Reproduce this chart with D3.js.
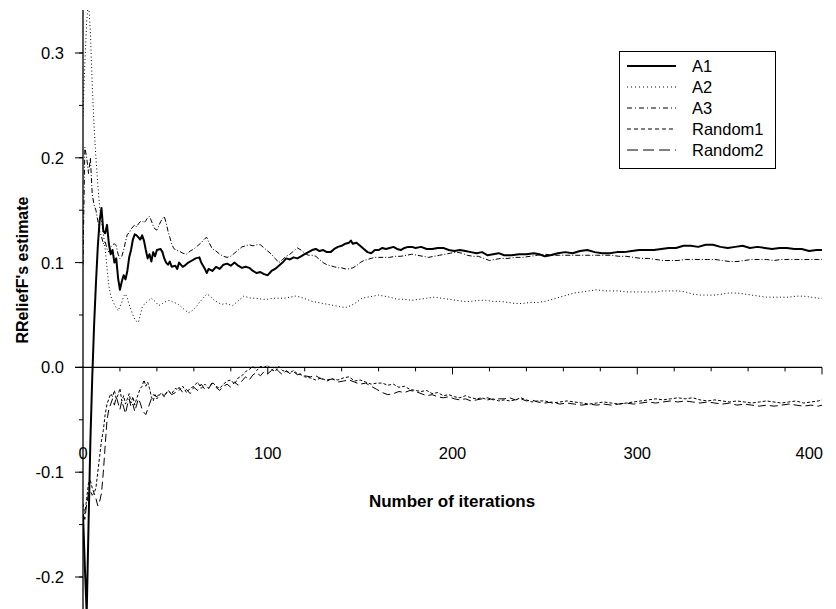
<!DOCTYPE html>
<html><head><meta charset="utf-8">
<script src="https://cdn.jsdelivr.net/npm/d3@7"></script>
<style>body{margin:0;background:#fff}svg{display:block}</style>
</head><body>
<svg id="c" width="836" height="609"></svg>
<script>
const seriesNames = ["A1","A2","A3","Random1","Random2"];
const xTicksMajor = [0,100,200,300,400];
const yTicksMajor = [-0.2,-0.1,0.0,0.1,0.2,0.3];
const yTickLabels = ["-0.2","-0.1","0.0","0.1","0.2","0.3"];

const a1 = [[0,-0.14],[1,-0.19],[2,-0.235],[3,-0.15],[4,-0.07],[5,-0.01],[6,0.04],[7,0.08],[8,0.115],[9,0.14],[10,0.152],[11,0.13],[12,0.128],[13,0.136],[14,0.118],[15,0.108],[16,0.112],[17,0.1],[18,0.104],[19,0.085],[20,0.074],[21,0.082],[22,0.088],[23,0.084],[24,0.092],[25,0.105],[26,0.112],[27,0.122],[28,0.127],[29,0.126],[30,0.124],[31,0.122],[32,0.126],[33,0.121],[34,0.112],[35,0.104],[36,0.108],[37,0.101],[38,0.11],[39,0.106],[40,0.112],[42,0.113],[43,0.11],[44,0.104],[45,0.1],[46,0.098],[47,0.101],[48,0.096],[50,0.097],[51,0.094],[52,0.1],[54,0.096],[55,0.097],[57,0.1],[59,0.102],[61,0.104],[63,0.105],[64,0.1],[66,0.094],[67,0.09],[68,0.094],[70,0.092],[72,0.096],[74,0.094],[76,0.098],[78,0.099],[80,0.097],[82,0.1],[84,0.097],[86,0.095],[88,0.096],[90,0.095],[92,0.092],[94,0.09],[96,0.091],[98,0.089],[100,0.088],[102,0.092],[104,0.094],[106,0.097],[108,0.1],[110,0.104],[112,0.103],[114,0.105],[116,0.104],[118,0.106],[120,0.108],[122,0.11],[124,0.112],[126,0.113],[128,0.111],[130,0.112],[132,0.11],[134,0.11],[136,0.113],[138,0.115],[140,0.116],[142,0.118],[144,0.119],[145,0.121],[146,0.118],[148,0.119],[150,0.116],[152,0.113],[154,0.11],[156,0.109],[158,0.112],[160,0.112],[162,0.114],[164,0.113],[166,0.114],[168,0.115],[170,0.113],[172,0.112],[174,0.114],[176,0.115],[178,0.115],[180,0.114],[183,0.115],[186,0.113],[189,0.113],[192,0.114],[195,0.114],[198,0.112],[201,0.111],[204,0.112],[207,0.111],[210,0.11],[213,0.109],[216,0.11],[219,0.107],[222,0.108],[225,0.109],[228,0.107],[232,0.107],[236,0.108],[240,0.108],[244,0.109],[247,0.108],[250,0.106],[253,0.107],[257,0.109],[261,0.11],[265,0.109],[269,0.111],[273,0.112],[277,0.11],[281,0.109],[285,0.109],[289,0.11],[293,0.11],[297,0.111],[301,0.112],[305,0.112],[309,0.112],[313,0.113],[317,0.114],[321,0.114],[325,0.116],[329,0.116],[333,0.115],[337,0.117],[341,0.117],[345,0.115],[349,0.114],[353,0.115],[357,0.116],[361,0.114],[365,0.115],[369,0.114],[373,0.113],[377,0.114],[381,0.114],[385,0.113],[389,0.113],[393,0.111],[397,0.112],[400,0.112]];

const a2 = [[0,0.24],[1,0.29],[2,0.33],[3,0.35],[4,0.32],[5,0.27],[6,0.23],[7,0.2],[8,0.175],[9,0.153],[10,0.14],[11,0.128],[12,0.113],[13,0.095],[14,0.078],[15,0.068],[16,0.064],[17,0.06],[18,0.057],[19,0.054],[20,0.058],[21,0.062],[22,0.068],[23,0.07],[24,0.066],[25,0.06],[26,0.055],[27,0.05],[28,0.046],[29,0.044],[30,0.043],[31,0.05],[32,0.057],[33,0.06],[35,0.063],[37,0.066],[39,0.063],[41,0.059],[43,0.061],[45,0.063],[47,0.064],[49,0.062],[51,0.061],[53,0.058],[55,0.055],[57,0.052],[59,0.054],[61,0.057],[63,0.062],[65,0.066],[67,0.07],[69,0.068],[71,0.064],[73,0.062],[75,0.06],[77,0.061],[79,0.06],[81,0.059],[83,0.062],[85,0.065],[87,0.068],[89,0.067],[91,0.066],[94,0.066],[97,0.065],[100,0.065],[103,0.066],[106,0.066],[109,0.066],[112,0.067],[115,0.068],[118,0.067],[121,0.065],[124,0.063],[127,0.062],[130,0.061],[133,0.06],[136,0.059],[139,0.058],[142,0.057],[145,0.059],[148,0.062],[151,0.066],[154,0.067],[157,0.068],[160,0.069],[163,0.068],[166,0.067],[170,0.065],[174,0.065],[178,0.064],[182,0.065],[186,0.066],[190,0.067],[194,0.066],[198,0.065],[202,0.064],[206,0.063],[210,0.063],[214,0.064],[218,0.064],[222,0.063],[226,0.063],[230,0.062],[234,0.061],[238,0.061],[242,0.062],[246,0.062],[250,0.063],[254,0.065],[258,0.067],[262,0.069],[266,0.071],[270,0.072],[274,0.073],[278,0.074],[282,0.073],[286,0.073],[290,0.073],[294,0.072],[298,0.072],[302,0.072],[306,0.072],[310,0.072],[314,0.073],[318,0.073],[322,0.073],[326,0.072],[330,0.07],[334,0.069],[338,0.069],[342,0.069],[346,0.07],[350,0.071],[354,0.071],[358,0.07],[362,0.069],[366,0.068],[370,0.067],[374,0.067],[378,0.067],[382,0.067],[386,0.068],[390,0.068],[394,0.067],[398,0.066],[400,0.066]];

const a3 = [[0,0.098],[1,0.21],[2,0.2],[3,0.185],[4,0.2],[5,0.165],[6,0.155],[7,0.15],[8,0.14],[9,0.13],[10,0.125],[11,0.118],[12,0.12],[13,0.113],[14,0.11],[15,0.115],[16,0.117],[17,0.118],[18,0.116],[19,0.108],[20,0.104],[21,0.106],[22,0.112],[23,0.12],[24,0.127],[25,0.128],[26,0.132],[27,0.134],[28,0.136],[29,0.134],[30,0.137],[31,0.139],[32,0.14],[33,0.138],[34,0.14],[35,0.143],[36,0.144],[37,0.14],[38,0.135],[39,0.132],[40,0.131],[41,0.135],[42,0.139],[43,0.142],[44,0.144],[45,0.138],[46,0.13],[47,0.124],[48,0.118],[49,0.114],[50,0.112],[52,0.111],[54,0.109],[56,0.108],[58,0.111],[60,0.113],[62,0.116],[64,0.119],[66,0.123],[67,0.124],[68,0.12],[70,0.113],[72,0.111],[74,0.108],[76,0.106],[78,0.105],[80,0.106],[82,0.109],[84,0.112],[86,0.115],[88,0.116],[90,0.117],[92,0.116],[94,0.117],[96,0.117],[98,0.114],[100,0.111],[102,0.108],[104,0.104],[106,0.1],[108,0.103],[110,0.106],[112,0.108],[114,0.111],[116,0.114],[118,0.112],[120,0.109],[122,0.107],[124,0.107],[126,0.106],[128,0.103],[130,0.1],[132,0.098],[134,0.097],[136,0.096],[138,0.095],[140,0.095],[142,0.094],[144,0.094],[146,0.095],[148,0.097],[150,0.1],[152,0.102],[154,0.103],[156,0.104],[158,0.105],[160,0.105],[163,0.105],[166,0.105],[169,0.106],[172,0.106],[175,0.107],[178,0.108],[181,0.107],[184,0.106],[187,0.105],[190,0.106],[193,0.107],[196,0.108],[199,0.109],[202,0.11],[205,0.109],[208,0.107],[211,0.106],[214,0.106],[217,0.104],[220,0.102],[223,0.103],[226,0.104],[230,0.104],[234,0.105],[238,0.105],[242,0.106],[246,0.107],[250,0.108],[254,0.107],[258,0.107],[262,0.107],[266,0.107],[270,0.107],[274,0.107],[278,0.107],[282,0.107],[286,0.107],[290,0.106],[294,0.106],[298,0.105],[302,0.104],[306,0.104],[310,0.103],[314,0.102],[318,0.102],[322,0.102],[326,0.103],[330,0.103],[334,0.103],[338,0.103],[342,0.103],[346,0.102],[350,0.101],[354,0.101],[358,0.102],[362,0.103],[366,0.103],[370,0.103],[374,0.102],[378,0.103],[382,0.103],[386,0.103],[390,0.103],[394,0.103],[398,0.103],[400,0.103]];

const random1 = [[0,-0.13],[1,-0.14],[2,-0.125],[3,-0.11],[4,-0.108],[5,-0.115],[6,-0.12],[7,-0.115],[8,-0.1],[9,-0.085],[10,-0.07],[11,-0.06],[12,-0.045],[13,-0.035],[14,-0.03],[15,-0.025],[16,-0.028],[17,-0.022],[18,-0.03],[19,-0.026],[20,-0.02],[21,-0.032],[22,-0.027],[23,-0.035],[24,-0.03],[25,-0.025],[26,-0.034],[27,-0.028],[28,-0.036],[29,-0.03],[30,-0.025],[31,-0.02],[32,-0.018],[33,-0.012],[34,-0.018],[35,-0.014],[36,-0.02],[37,-0.028],[38,-0.032],[39,-0.026],[40,-0.03],[42,-0.025],[44,-0.028],[46,-0.022],[48,-0.025],[50,-0.02],[52,-0.022],[54,-0.018],[56,-0.024],[58,-0.02],[60,-0.018],[62,-0.014],[64,-0.02],[66,-0.016],[68,-0.02],[70,-0.014],[72,-0.018],[74,-0.02],[76,-0.016],[78,-0.013],[80,-0.012],[82,-0.016],[84,-0.01],[86,-0.008],[88,-0.004],[90,-0.002],[92,0.001],[94,-0.003],[96,0.001],[98,0.0],[100,0.002],[102,-0.002],[104,-0.004],[106,0.001],[108,-0.003],[110,-0.004],[112,-0.005],[114,-0.003],[116,-0.006],[118,-0.007],[120,-0.009],[123,-0.01],[126,-0.012],[129,-0.01],[132,-0.013],[135,-0.011],[138,-0.012],[141,-0.01],[144,-0.009],[147,-0.013],[150,-0.012],[153,-0.014],[156,-0.016],[159,-0.015],[162,-0.015],[165,-0.017],[168,-0.016],[171,-0.019],[174,-0.018],[177,-0.021],[180,-0.022],[183,-0.023],[186,-0.022],[189,-0.025],[192,-0.024],[195,-0.027],[198,-0.026],[201,-0.028],[204,-0.029],[207,-0.027],[210,-0.029],[213,-0.03],[216,-0.029],[219,-0.031],[222,-0.03],[225,-0.032],[228,-0.031],[231,-0.032],[234,-0.031],[237,-0.029],[240,-0.031],[243,-0.033],[246,-0.032],[250,-0.032],[254,-0.034],[258,-0.033],[262,-0.032],[266,-0.033],[270,-0.034],[274,-0.035],[278,-0.034],[282,-0.033],[286,-0.034],[290,-0.035],[294,-0.034],[298,-0.033],[302,-0.032],[306,-0.031],[310,-0.03],[314,-0.031],[318,-0.03],[322,-0.029],[326,-0.03],[330,-0.029],[334,-0.031],[338,-0.032],[342,-0.031],[346,-0.032],[350,-0.033],[354,-0.032],[358,-0.033],[362,-0.034],[366,-0.033],[370,-0.032],[374,-0.033],[378,-0.034],[382,-0.033],[386,-0.032],[390,-0.034],[394,-0.033],[398,-0.032],[400,-0.031]];

const random2 = [[0,-0.14],[1,-0.145],[2,-0.13],[3,-0.12],[4,-0.118],[5,-0.122],[6,-0.12],[7,-0.125],[8,-0.132],[9,-0.128],[10,-0.12],[11,-0.1],[12,-0.075],[13,-0.05],[14,-0.04],[15,-0.035],[16,-0.03],[17,-0.036],[18,-0.028],[19,-0.034],[20,-0.04],[21,-0.032],[22,-0.038],[23,-0.044],[24,-0.036],[25,-0.03],[26,-0.038],[27,-0.035],[28,-0.042],[29,-0.036],[30,-0.03],[31,-0.034],[32,-0.04],[33,-0.043],[34,-0.045],[35,-0.04],[36,-0.035],[37,-0.03],[38,-0.026],[40,-0.028],[42,-0.024],[44,-0.027],[46,-0.022],[48,-0.026],[50,-0.024],[52,-0.019],[54,-0.024],[56,-0.021],[58,-0.025],[60,-0.019],[62,-0.022],[64,-0.016],[66,-0.021],[68,-0.02],[70,-0.015],[72,-0.019],[74,-0.022],[76,-0.018],[78,-0.016],[80,-0.019],[82,-0.014],[84,-0.017],[86,-0.013],[88,-0.009],[90,-0.012],[92,-0.007],[94,-0.005],[96,-0.008],[98,-0.004],[100,-0.006],[102,-0.003],[104,0.0],[106,-0.004],[108,-0.007],[110,-0.003],[112,-0.006],[114,-0.004],[116,-0.007],[118,-0.006],[120,-0.008],[123,-0.009],[126,-0.008],[129,-0.011],[132,-0.012],[135,-0.011],[138,-0.014],[141,-0.013],[144,-0.012],[147,-0.014],[150,-0.016],[153,-0.015],[156,-0.018],[159,-0.021],[162,-0.024],[165,-0.026],[168,-0.025],[171,-0.023],[174,-0.024],[177,-0.022],[180,-0.023],[183,-0.025],[186,-0.027],[189,-0.026],[192,-0.028],[195,-0.029],[198,-0.028],[201,-0.03],[204,-0.031],[207,-0.03],[210,-0.032],[213,-0.031],[216,-0.03],[219,-0.029],[222,-0.031],[225,-0.03],[228,-0.03],[231,-0.029],[234,-0.031],[237,-0.03],[240,-0.032],[243,-0.031],[246,-0.033],[250,-0.034],[254,-0.033],[258,-0.035],[262,-0.034],[266,-0.035],[270,-0.036],[274,-0.035],[278,-0.036],[282,-0.035],[286,-0.036],[290,-0.035],[294,-0.034],[298,-0.035],[302,-0.034],[306,-0.033],[310,-0.034],[314,-0.033],[318,-0.032],[322,-0.033],[326,-0.032],[330,-0.033],[334,-0.034],[338,-0.033],[342,-0.034],[346,-0.035],[350,-0.034],[354,-0.036],[358,-0.035],[362,-0.036],[366,-0.037],[370,-0.036],[374,-0.037],[378,-0.036],[382,-0.035],[386,-0.036],[390,-0.037],[394,-0.036],[398,-0.037],[400,-0.036]];

const seriesData = [a1, a2, a3, random1, random2];
const styles = [
  {w:2, dash:null, ldash:null},
  {w:1, dash:"1,2.5", ldash:"1,3"},
  {w:1, dash:"5,2,1,2", ldash:"5,3,1,3"},
  {w:1, dash:"3,2", ldash:"4,3"},
  {w:1, dash:"8,4", ldash:"11,5"}
];

const svg = d3.select("#c");
const font = "'Liberation Sans', Arial, Helvetica, sans-serif";
const x = d3.scaleLinear().domain([0,400]).range([83,822]);
const y = d3.scaleLinear().domain([-0.2,0.3]).range([577,53]);

svg.append("defs").append("clipPath").attr("id","clip")
  .append("rect").attr("x",83).attr("y",10).attr("width",760).attr("height",600);

// Y axis
const yAxisG = svg.append("g").attr("transform","translate(83,0)");
yAxisG.append("line").attr("x1",0).attr("x2",0).attr("y1",10).attr("y2",609).attr("stroke","#000").attr("stroke-width",1.3);
const yMinor = d3.range(-0.2, 0.31, 0.05).map(v=>+v.toFixed(2));
yAxisG.selectAll("line.mn").data(yMinor).join("line").attr("class","mn")
  .attr("x1",-4).attr("x2",0).attr("y1",d=>y(d)).attr("y2",d=>y(d)).attr("stroke","#000").attr("stroke-width",1);
yAxisG.selectAll("line.mj").data(yTicksMajor).join("line").attr("class","mj")
  .attr("x1",-8).attr("x2",0).attr("y1",d=>y(d)).attr("y2",d=>y(d)).attr("stroke","#000").attr("stroke-width",1);
yAxisG.selectAll("text").data(yTicksMajor).join("text")
  .attr("x",-19).attr("y",d=>y(d)).attr("dy","0.36em").attr("text-anchor","end")
  .attr("font-family",font).attr("font-size",16.5).text((d,i)=>yTickLabels[i]);

// X axis at y=0
const x0 = y(0);
const xAxisG = svg.append("g").attr("transform",`translate(0,${x0})`);
xAxisG.append("line").attr("x1",75).attr("x2",822).attr("y1",0).attr("y2",0).attr("stroke","#000").attr("stroke-width",1.3);
const xMinor = d3.range(20, 400, 20).filter(v=>v%100!==0);
xAxisG.selectAll("line.mn").data(xMinor).join("line").attr("class","mn")
  .attr("x1",d=>x(d)).attr("x2",d=>x(d)).attr("y1",0).attr("y2",4).attr("stroke","#000");
xAxisG.selectAll("line.mj").data(xTicksMajor.slice(1)).join("line").attr("class","mj")
  .attr("x1",d=>x(d)).attr("x2",d=>x(d)).attr("y1",0).attr("y2",7).attr("stroke","#000");
xAxisG.selectAll("text").data(xTicksMajor).join("text")
  .attr("x",d=> d===400 ? x(d)+1 : x(d)).attr("y",92)
  .attr("text-anchor",d=> d===400 ? "end" : "middle")
  .attr("font-family",font).attr("font-size",16.5).text(d=>d);

// Lines
const line = d3.line().x(d=>x(d[0])).y(d=>y(d[1]));
const linesG = svg.append("g").attr("clip-path","url(#clip)");
seriesData.forEach((s,i)=>{
  linesG.append("path").datum(s).attr("d",line).attr("fill","none")
    .attr("stroke","#000").attr("stroke-width",styles[i].w)
    .attr("stroke-dasharray",styles[i].dash).attr("stroke-linejoin","round");
});

// Axis titles
svg.append("text").attr("x",452).attr("y",507).attr("text-anchor","middle")
  .attr("font-family",font).attr("font-weight","bold").attr("font-size",17).text("Number of iterations");
svg.append("text").attr("transform","translate(28,270) rotate(-90)").attr("text-anchor","middle")
  .attr("font-family",font).attr("font-weight","bold").attr("font-size",16).text("RReliefF's estimate");

// Legend
const lg = svg.append("g");
lg.append("rect").attr("x",619.5).attr("y",51.5).attr("width",156).attr("height",117)
  .attr("fill","#fff").attr("stroke","#000").attr("stroke-width",1);
const rowY = [66,87,108,129,150];
seriesNames.forEach((n,i)=>{
  lg.append("line").attr("x1",627).attr("x2",676).attr("y1",rowY[i]).attr("y2",rowY[i])
    .attr("stroke","#000").attr("stroke-width",styles[i].w===2?2:1).attr("stroke-dasharray",styles[i].ldash);
  lg.append("text").attr("x",692).attr("y",rowY[i]).attr("dy","0.36em")
    .attr("font-family",font).attr("font-size",16.5).text(n);
});
</script>
</body></html>
